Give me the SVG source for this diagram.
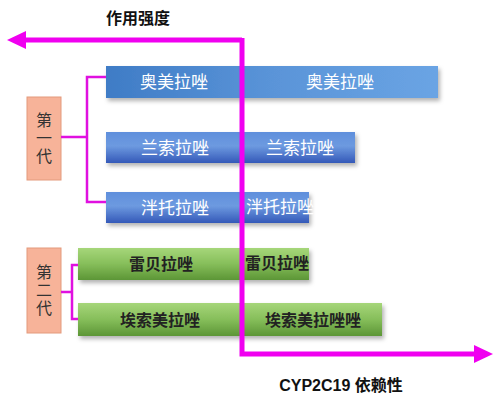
<svg xmlns="http://www.w3.org/2000/svg" width="500" height="402" viewBox="0 0 500 402">
<defs>
<linearGradient id="gBlue1" x1="0" y1="0" x2="1" y2="0">
<stop offset="0" stop-color="#3f7cc6"/><stop offset="0.5" stop-color="#5a94d8"/><stop offset="1" stop-color="#6aa4e4"/>
</linearGradient>
<linearGradient id="gBlue2" x1="0" y1="0" x2="0" y2="1">
<stop offset="0" stop-color="#5f8fdc"/><stop offset="0.45" stop-color="#6d9ae0"/><stop offset="1" stop-color="#3458b8"/>
</linearGradient>
<linearGradient id="gGreen" x1="0" y1="0" x2="0" y2="1">
<stop offset="0" stop-color="#a6d67a"/><stop offset="0.5" stop-color="#86be5a"/><stop offset="1" stop-color="#5c9636"/>
</linearGradient>
<filter id="sh" x="-5%" y="-20%" width="112%" height="160%">
<feDropShadow dx="2" dy="3" stdDeviation="2" flood-color="#000" flood-opacity="0.3"/>
</filter>
</defs>
<style>
.axis{fill:none;stroke:#f000f0;stroke-width:5}
.con{fill:none;stroke:#e010e0;stroke-width:2.5}
.w{font-family:"Noto Sans CJK SC","Noto Sans",sans-serif;font-size:17px;fill:#ffffff;text-anchor:middle}
.k{font-family:"Noto Sans CJK SC","Noto Sans",sans-serif;font-size:16px;font-weight:bold;fill:#222;text-anchor:middle}
.gen{fill:#f7b399;stroke:#e39a7c;stroke-width:1}
.gt{font-family:"Noto Sans CJK SC","Noto Sans",sans-serif;font-size:16px;fill:#333;writing-mode:vertical-rl;letter-spacing:2px}
.lbl{font-family:"Liberation Sans","Noto Sans CJK SC",sans-serif;font-size:16px;font-weight:bold;fill:#111;text-anchor:middle}
</style>
<rect width="500" height="402" fill="#ffffff"/>

<g id="bar1"><rect x="106" y="66" width="332" height="32" fill="url(#gBlue1)" filter="url(#sh)"/>
<text class="w" x="174" y="88">奥美拉唑</text><text class="w" x="340" y="88">奥美拉唑</text></g>
<g id="bar2"><rect x="106" y="132" width="249" height="31" fill="url(#gBlue2)" filter="url(#sh)"/>
<text class="w" x="175" y="154">兰索拉唑</text><text class="w" x="300" y="154">兰索拉唑</text></g>
<g id="bar3"><rect x="106" y="192" width="203" height="31" fill="url(#gBlue2)" filter="url(#sh)"/>
<text class="w" x="175" y="214">泮托拉唑</text><text class="w" x="280" y="213" font-size="14">泮托拉唑</text></g>
<g id="bar4"><rect x="78" y="248" width="231" height="32" fill="url(#gGreen)" filter="url(#sh)"/>
<text class="k" x="161" y="270">雷贝拉唑</text><text class="k" x="277" y="269" font-size="14">雷贝拉唑</text></g>
<g id="bar5"><rect x="78" y="303" width="304" height="33" fill="url(#gGreen)" filter="url(#sh)"/>
<text class="k" x="160" y="326" font-size="17">埃索美拉唑</text><text class="k" x="313" y="326" font-size="17">埃索美拉唑唑</text></g>

<g id="gen1"><rect class="gen" x="27" y="97" width="34" height="83"/>
<text class="gt" x="44" y="112">第一代</text></g>
<g id="gen2"><rect class="gen" x="27" y="248" width="34" height="85"/>
<text class="gt" x="44" y="264">第二代</text></g>

<g id="connectors">
<path class="con" d="M61,137 H87 M106,77 H87 V202 H106"/>
<path class="con" d="M61,292 H72 M78,265 H72 V319 H78"/>
<path class="axis" d="M242,40 H25"/>
<path d="M7,40 L26,31 L26,49 Z" fill="#f000f0"/>
<path class="axis" d="M242,38 V354 H476"/>
<path d="M493,354 L474,345 L474,363 Z" fill="#f000f0"/>
</g>

<text class="lbl" x="138" y="24">作用强度</text>
<text class="lbl" x="341" y="391" style="font-weight:600">CYP2C19 依赖性</text>
</svg>
